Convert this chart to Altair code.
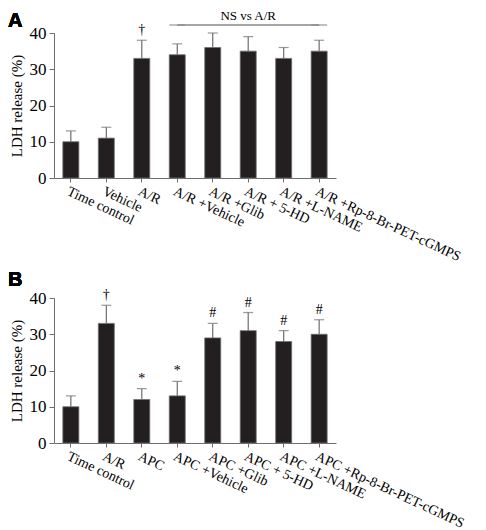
import altair as alt
import pandas as pd

# Panel A data
cats_a = ["Time control", "Vehicle", "A/R", "A/R +Vehicle", "A/R +Glib",
          "A/R + 5-HD", "A/R +L-NAME", "A/R +Rp-8-Br-PET-cGMPS"]
vals_a = [10, 11, 33, 34, 36, 35, 33, 35]
err_a = [3, 3, 5, 3, 4, 4, 3, 3]
sym_a = ["", "", "†", "", "", "", "", ""]

# Panel B data
cats_b = ["Time control", "A/R", "APC", "APC +Vehicle", "APC +Glib",
          "APC + 5-HD", "APC +L-NAME", "APC +Rp-8-Br-PET-cGMPS"]
vals_b = [10, 33, 12, 13, 29, 31, 28, 30]
err_b = [3, 5, 3, 4, 4, 5, 3, 4]
sym_b = ["", "†", "*", "*", "#", "#", "#", "#"]

y_ticks = [0, 10, 20, 30, 40]
ns_text = "NS vs A/R"
ns_from = "A/R +Vehicle"
ns_to = "A/R +Rp-8-Br-PET-cGMPS"

SERIF = "Liberation Serif"
W, H = 282, 145
BAR = "#231f20"
ERR = "#6e6e6e"
YTITLE = "LDH release (%)"


def xscale(cats):
    return alt.Scale(domain=cats, paddingInner=0.55, paddingOuter=0.25)


def xenc_for(cats, field="cat"):
    return alt.X(f"{field}:N", title="", scale=xscale(cats),
                 axis=alt.Axis(labelAngle=25, labelAlign="left", labelBaseline="top",
                               labelFont=SERIF, labelFontSize=14, labelColor="black",
                               tickSize=4, tickColor=ERR, domainColor=ERR,
                               labelPadding=2, labelOverlap=False))


def yenc_for(field):
    return alt.Y(f"{field}:Q", title=YTITLE,
                 scale=alt.Scale(domain=[0, 40], nice=False),
                 axis=alt.Axis(values=y_ticks, grid=False, labelFont=SERIF,
                               labelFontSize=17, labelColor="black", tickSize=5,
                               tickColor=ERR, domainColor=ERR, labelPadding=3,
                               labelOverlap=False, title=YTITLE,
                               titleFont=SERIF, titleFontSize=15,
                               titleFontWeight="normal", titleColor="black",
                               titlePadding=5))


def panel(cats, vals, errs, syms, letter, letter_y):
    df = pd.DataFrame({"cat": cats, "value": vals, "err": errs, "sym": syms})
    df["upper"] = df["value"] + df["err"]
    base = alt.Chart(df)
    xenc = xenc_for(cats)
    bars = base.mark_bar(size=16, color=BAR, stroke=ERR, strokeWidth=0.8).encode(
        x=xenc, y=yenc_for("value"))
    err_rule = base.mark_rule(color=ERR, strokeWidth=1.2).encode(
        x=xenc, y=yenc_for("value"), y2="upper:Q")
    cap = base.mark_tick(color=ERR, thickness=1.2, size=10).encode(
        x=xenc, y=yenc_for("upper"))
    syms_layer = base.mark_text(font=SERIF, fontSize=14, baseline="bottom",
                                dy=-3, color="black").encode(
        x=xenc, y=yenc_for("upper"), text="sym:N")
    lab = base.mark_text(font="Liberation Sans", fontSize=20, fontWeight="bold",
                         align="left", baseline="alphabetic", color="black").encode(
        x=alt.value(-46), y=alt.value(letter_y), text=alt.value(letter))
    return [bars, err_rule, cap, syms_layer, lab]


layers_a = panel(cats_a, vals_a, err_a, sym_a, "A", -6)

# NS vs A/R bracket: line from the 4th bar's left edge to the last bar's right edge
i0, i1 = cats_a.index(ns_from), cats_a.index(ns_to)
ns_df = pd.DataFrame({"a": [ns_from], "b": [ns_to],
                      "mid": [cats_a[(i0 + i1) // 2]], "t": [ns_text]})
ends_df = pd.DataFrame({"cat": [ns_from, ns_to]})
ns_line = alt.Chart(ns_df).mark_rule(color="#888888", strokeWidth=1.5).encode(
    x=alt.X("a:N", scale=xscale(cats_a)), x2=alt.X2("b"), y=alt.value(-8))
ns_ends = alt.Chart(ends_df).mark_tick(color="#888888", thickness=1.5, size=16,
                                       orient="horizontal").encode(
    x=alt.X("cat:N", scale=xscale(cats_a)), y=alt.value(-8))
ns_txt = alt.Chart(ns_df).mark_text(font=SERIF, fontSize=13, baseline="alphabetic",
                                    color="black").encode(
    x=alt.X("mid:N", scale=xscale(cats_a)), y=alt.value(-13), text="t:N")

panel_a = alt.layer(*layers_a, ns_line, ns_ends, ns_txt).properties(width=W, height=H)
panel_b = alt.layer(*panel(cats_b, vals_b, err_b, sym_b, "B", -12)).properties(
    width=W, height=H)

chart = alt.vconcat(panel_a, panel_b, spacing=6).properties(
    padding={"left": 0, "top": 2, "right": 0, "bottom": 0}).configure_view(stroke=None)

chart.save("out.html", embed_options={"renderer": "svg", "actions": False})
